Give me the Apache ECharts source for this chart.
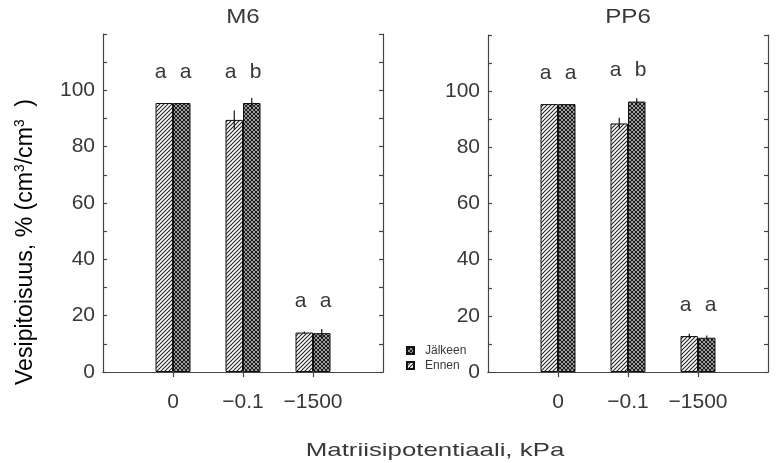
<!DOCTYPE html>
<html>
<head>
<meta charset="utf-8">
<script src="https://cdn.jsdelivr.net/npm/echarts@6/dist/echarts.min.js"></script>
<style>
  html, body { margin: 0; padding: 0; background: #fff; }
  #chart { width: 778px; height: 463px; }
</style>
</head>
<body>
<div id="chart"></div>
<script>
// Matric potential classes (kPa)
const categories = ['0', '\u22120.1', '\u22121500'];
const panelTitles = ['M6', 'PP6'];
const seriesNames = ['Ennen', 'Jälkeen'];

// Water content, % (cm3/cm3), before (Ennen) and after (Jälkeen)
const m6Ennen = [95.5, 89.5, 14.0];
const m6Jalkeen = [95.5, 95.5, 13.8];
const pp6Ennen = [95.4, 88.5, 12.8];
const pp6Jalkeen = [95.4, 96.3, 12.2];

// Standard errors
const m6EnnenErr = [0, 3.3, 0.4];
const m6JalkeenErr = [0, 1.8, 1.5];
const pp6EnnenErr = [0, 2.0, 0.8];
const pp6JalkeenErr = [0, 1.2, 0.8];

// Significance letters
const m6EnnenLetters = ['a', 'a', 'a'];
const m6JalkeenLetters = ['a', 'b', 'a'];
const pp6EnnenLetters = ['a', 'a', 'a'];
const pp6JalkeenLetters = ['a', 'b', 'a'];

const yTicks = [0, 20, 40, 60, 80, 100];

const FONT = "'Liberation Sans', Arial, sans-serif";
const INK = '#383838';

// Fill patterns: diagonal hatch and diagonal cross-hatch
function hatchTile() {
  const c = document.createElement('canvas');
  c.width = 4; c.height = 4;
  const g = c.getContext('2d');
  g.fillStyle = '#fff';
  g.fillRect(0, 0, 4, 4);
  g.strokeStyle = '#222';
  g.lineWidth = 1.1;
  g.beginPath();
  g.moveTo(-1, 5); g.lineTo(5, -1);
  g.moveTo(-1, 1); g.lineTo(1, -1);
  g.moveTo(3, 5); g.lineTo(5, 3);
  g.stroke();
  return c;
}
function crossTile() {
  const c = document.createElement('canvas');
  c.width = 4; c.height = 4;
  const g = c.getContext('2d');
  g.fillStyle = '#fff';
  g.fillRect(0, 0, 4, 4);
  g.strokeStyle = '#1a1a1a';
  g.lineWidth = 1.3;
  g.beginPath();
  g.moveTo(-1, 5); g.lineTo(5, -1);
  g.moveTo(-1, 1); g.lineTo(1, -1);
  g.moveTo(3, 5); g.lineTo(5, 3);
  g.moveTo(-1, -1); g.lineTo(5, 5);
  g.moveTo(3, -1); g.lineTo(5, 1);
  g.moveTo(-1, 3); g.lineTo(1, 5);
  g.stroke();
  return c;
}
const hatchFill = { image: hatchTile(), repeat: 'repeat' };
const crossFill = { image: crossTile(), repeat: 'repeat' };

const axisCats = [''].concat(categories, ['']);
const pad = arr => [null].concat(arr, [null]);

const BAR_W = 17.5;
const panels = [
  { ennen: m6Ennen, jalkeen: m6Jalkeen, eErr: m6EnnenErr, jErr: m6JalkeenErr, eL: m6EnnenLetters, jL: m6JalkeenLetters, left: 103, top: 34 },
  { ennen: pp6Ennen, jalkeen: pp6Jalkeen, eErr: pp6EnnenErr, jErr: pp6JalkeenErr, eL: pp6EnnenLetters, jL: pp6JalkeenLetters, left: 488, top: 35 }
];

const grid = [], xAxis = [], yAxis = [], series = [];

panels.forEach((p, i) => {
  grid.push({ left: p.left, top: p.top, width: 280, height: 372 - p.top });

  const lineStyle = { color: '#444', width: 1.2 };
  // bottom category axis
  xAxis.push({
    type: 'category', gridIndex: i, data: axisCats, boundaryGap: false,
    position: 'bottom',
    axisLine: { lineStyle },
    axisTick: { show: false },
    axisLabel: { color: INK, fontFamily: FONT, fontSize: 21, margin: 20, interval: 0 }
  });
  // top frame with ticks at the groups
  xAxis.push({
    type: 'category', gridIndex: i, data: axisCats, boundaryGap: false,
    position: 'top',
    axisLine: { lineStyle },
    axisTick: { show: true, inside: true, length: 5, lineStyle, interval: (idx, v) => v !== '' },
    axisLabel: { show: false }
  });
  const yBase = {
    type: 'value', gridIndex: i, min: 0, max: 120, interval: 20,
    splitLine: { show: false },
    axisLine: { show: true, lineStyle },
    axisTick: { show: true, inside: true, length: 4, lineStyle },
    minorTick: { show: true, splitNumber: 2, length: 4, lineStyle }
  };
  yAxis.push(Object.assign({}, yBase, {
    position: 'left',
    axisLabel: {
      color: INK, fontFamily: FONT, fontSize: 21, margin: 8,
      formatter: v => (yTicks.indexOf(v) >= 0 ? String(v) : '')
    }
  }));
  yAxis.push(Object.assign({}, yBase, { position: 'right', axisLabel: { show: false } }));

  const xi = i * 2, yi = i * 2;
  series.push({
    name: seriesNames[0], type: 'bar', xAxisIndex: xi, yAxisIndex: yi,
    data: pad(p.ennen), barWidth: BAR_W, barGap: '0%',
    itemStyle: { color: hatchFill, borderColor: '#111', borderWidth: 1 },
    emphasis: { disabled: true }
  });
  series.push({
    name: seriesNames[1], type: 'bar', xAxisIndex: xi, yAxisIndex: yi,
    data: pad(p.jalkeen), barWidth: BAR_W, barGap: '0%',
    itemStyle: { color: crossFill, borderColor: '#111', borderWidth: 1 },
    emphasis: { disabled: true }
  });

  // error bars
  const errData = [];
  p.ennen.forEach((v, k) => errData.push([k + 1, v, p.eErr[k], -1]));
  p.jalkeen.forEach((v, k) => errData.push([k + 1, v, p.jErr[k], 1]));
  series.push({
    type: 'custom', xAxisIndex: xi, yAxisIndex: yi, data: errData, z: 5, silent: true,
    renderItem: (params, api) => {
      const idx = api.value(0), v = api.value(1), e = api.value(2), side = api.value(3);
      if (!e) return null;
      const hi = api.coord([idx, v + e]), lo = api.coord([idx, v - e]);
      const x = hi[0] + side * BAR_W / 2;
      return {
        type: 'line',
        shape: { x1: x, y1: hi[1], x2: x, y2: lo[1] },
        style: { stroke: '#111', lineWidth: 1.2 }
      };
    }
  });

  // significance letters above each group
  const letterData = [];
  categories.forEach((c, k) => {
    const top = Math.max(p.ennen[k], p.jalkeen[k]) + 11;
    letterData.push([k + 1, top, -1, p.eL[k]]);
    letterData.push([k + 1, top, 1, p.jL[k]]);
  });
  series.push({
    type: 'custom', xAxisIndex: xi, yAxisIndex: yi, data: letterData, z: 6, silent: true,
    dimensions: ['x', 'y', 'side', { name: 'letter', type: 'ordinal' }],
    renderItem: (params, api) => {
      const pt = api.coord([api.value(0), api.value(1)]);
      const side = api.value(2);
      const letter = letterData[params.dataIndex][3];
      return {
        type: 'text',
        style: {
          text: letter, x: pt[0] + side * 12.5, y: pt[1],
          align: 'center', verticalAlign: 'middle',
          font: '21px ' + FONT, fill: INK
        }
      };
    }
  });
});

const chart = echarts.init(document.getElementById('chart'), null, { renderer: 'canvas' });
chart.setOption({
  backgroundColor: '#fff',
  animation: false,
  legend: {
    data: [seriesNames[1], seriesNames[0]],
    orient: 'vertical', left: 401, top: 339,
    itemWidth: 7, itemHeight: 7, itemGap: 2,
    icon: 'rect',
    selectedMode: false,
    textStyle: { fontFamily: FONT, fontSize: 12, lineHeight: 13, color: INK, padding: [0, 0, 0, 6] }
  },
  grid, xAxis, yAxis, series,
  graphic: [
    {
      type: 'text', x: 243, y: 17, scaleX: 1.15,
      style: { text: panelTitles[0], align: 'center', verticalAlign: 'middle', font: '21px ' + FONT, fill: INK }
    },
    {
      type: 'text', x: 628, y: 17, scaleX: 1.15,
      style: { text: panelTitles[1], align: 'center', verticalAlign: 'middle', font: '21px ' + FONT, fill: INK }
    },
    {
      type: 'text', x: 25, y: 242, rotation: Math.PI / 2, scaleX: 1.05, scaleY: 1.1,
      style: {
        text: '{n|Vesipitoisuus, % (cm}{s|3}{n|/cm}{s|3}{n|  )}',
        align: 'center', verticalAlign: 'middle',
        rich: {
          n: { fontFamily: FONT, fontSize: 22, color: INK },
          s: { fontFamily: FONT, fontSize: 13, color: INK, verticalAlign: 'top', padding: [0, 0, 9, 0] }
        }
      }
    },
    {
      type: 'text', x: 435, y: 451, scaleX: 1.36,
      style: {
        text: 'Matriisipotentiaali, kPa', align: 'center', verticalAlign: 'middle',
        font: '19px ' + FONT, fill: INK
      }
    }
  ]
});
</script>
</body>
</html>
